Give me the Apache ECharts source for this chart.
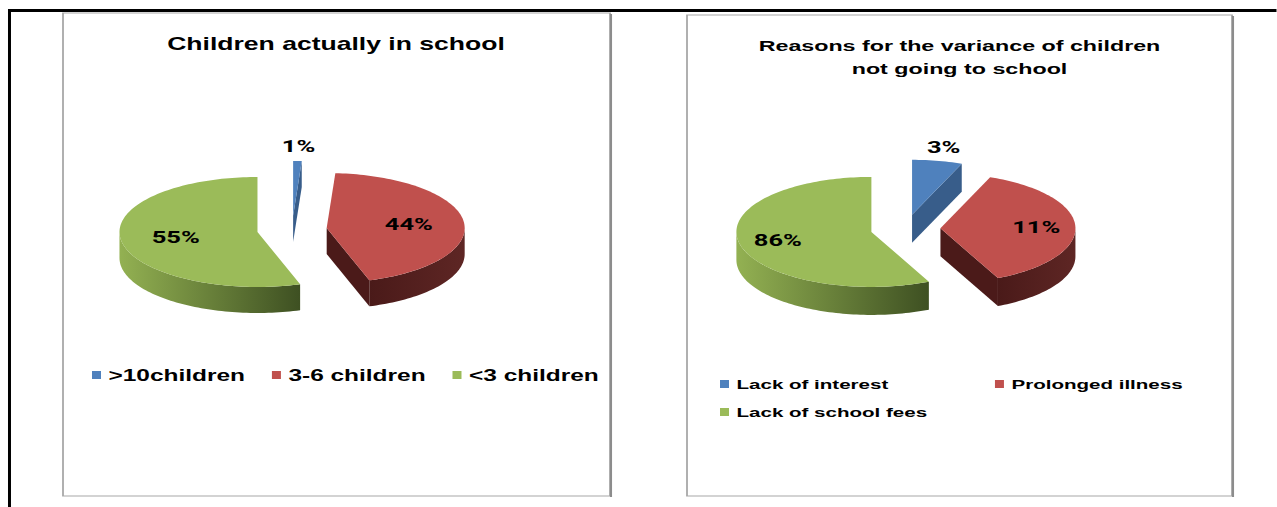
<!DOCTYPE html>
<html><head><meta charset="utf-8">
<script src="https://cdn.jsdelivr.net/npm/echarts@6/dist/echarts.min.js"></script>
<style>
html,body{margin:0;padding:0;background:#fff;overflow:hidden;}
#wrap{width:1277px;height:507px;overflow:hidden;position:relative;}
#chart{width:851.3333px;height:507px;transform:scaleX(1.5);transform-origin:0 0;}
</style></head><body>
<div id="wrap"><div id="chart"></div></div>
<script>
// ---- Chart 1 data ----
const schoolTitle = 'Children actually in school';
const schoolCategories = ['>10children', '3-6 children', '<3 children'];
const schoolValues = [1, 44, 55];
const schoolLabels = ['1%', '44%', '55%'];

// ---- Chart 2 data ----
const reasonTitle = 'Reasons for the variance of children\nnot going to school';
const reasonCategories = ['Lack of interest', 'Prolonged illness', 'Lack of school fees'];
const reasonSliceValues = [6, 37, 57];          // slice sizes as drawn in the picture
const reasonLabels = ['3%', '11%', '86%'];      // label texts as printed

// ---- styles ----
const S = 1.5; // horizontal stretch of the whole picture
const colors = ['#4F81BD', '#C0504D', '#9BBB59'];
const sideColors = [['#3f6aa0', '#2e5180'], ['#4a1a19', '#5e2624'], ['#93b152', '#3e5022']];
const faceColors = ['#385d8a', '#4b1a19', '#5a7330'];

function drawSlice(cfg, i, a0, a1, share, label) {
  const cx = cfg.cx, cy = cfg.cy, rx = cfg.rx, ry = cfg.ry, depth = cfg.depth, ex = cfg.explode;
  const mid = (a0 + a1) / 2;
  const ox = cx + Math.sin(mid) * ex;
  const oy = cy - Math.cos(mid) * ex * ry / rx;
  const rim = (t, dy) => [ox + Math.sin(t) * rx, oy - Math.cos(t) * ry + (dy || 0)];
  const arc = (t0, t1, dy) => {
    const n = Math.max(2, Math.ceil(Math.abs(t1 - t0) / (Math.PI / 120)));
    const pts = [];
    for (let k = 0; k <= n; k++) pts.push(rim(t0 + (t1 - t0) * k / n, dy));
    return pts;
  };
  const children = [];
  const s0 = Math.max(a0, Math.PI / 2), s1 = Math.min(a1, 1.5 * Math.PI);
  if (s1 > s0) {
    children.push({
      type: 'polygon', shape: { points: arc(s0, s1, 0).concat(arc(s1, s0, depth)) },
      style: { fill: new echarts.graphic.LinearGradient(0, 0, 1, 0, [
        { offset: 0, color: sideColors[i][0] }, { offset: 1, color: sideColors[i][1] }]) }
    });
  }
  const face = (t) => [[ox, oy], rim(t), rim(t, depth), [ox, oy + depth]];
  if (Math.sin(a0) < -1e-6) children.push({ type: 'polygon', shape: { points: face(a0) }, style: { fill: faceColors[i] } });
  if (Math.sin(a1) > 1e-6) children.push({ type: 'polygon', shape: { points: face(a1) }, style: { fill: faceColors[i] } });
  children.push({ type: 'polygon', shape: { points: [[ox, oy]].concat(arc(a0, a1, 0)) }, style: { fill: colors[i] } });
  const f = share < 0.08 ? cfg.outR : cfg.labelR;
  children.push({
    type: 'text', x: ox + Math.sin(mid) * rx * f, y: oy - Math.cos(mid) * ry * f, z2: 20,
    style: { text: label, fill: '#000', fontSize: 17, fontWeight: 'bold', fontFamily: 'Roboto',
             align: 'center', verticalAlign: 'middle' }
  });
  return { type: 'group', children: children };
}

function pieSeries(cfg, names, values, labels) {
  const total = values.reduce((a, b) => a + b, 0);
  let acc = 0;
  return values.map((v, i) => {
    const a0 = acc / total * 2 * Math.PI; acc += v;
    const a1 = acc / total * 2 * Math.PI;
    return {
      type: 'custom', name: names[i], coordinateSystem: 'none', silent: true,
      itemStyle: { color: colors[i] }, data: [[v]],
      renderItem: () => drawSlice(cfg, i, a0, a1, v / total, labels[i])
    };
  });
}

const pie1 = { cx: 292 / S, cy: 229.8, rx: 92, ry: 55, depth: 26, explode: 23.3, labelR: 0.6, outR: 1.27 };
const pie2 = { cx: 905.5 / S, cy: 228.8, rx: 90, ry: 55, depth: 28, explode: 23.3, labelR: 0.71, outR: 1.25 };

const chart = echarts.init(document.getElementById('chart'), null, { renderer: 'svg', width: 1277 / S, height: 507 });
chart.setOption({
  animation: false,
  backgroundColor: '#fff',
  title: [
    { text: schoolTitle, left: 336 / S, top: 44, textAlign: 'center', textVerticalAlign: 'middle', padding: 0,
      textStyle: { fontFamily: 'Liberation Sans', fontWeight: 'bold', fontSize: 17.7, color: '#000' } },
    { text: reasonTitle, left: 959.5 / S, top: 57, textAlign: 'center', textVerticalAlign: 'middle', padding: 0,
      textStyle: { fontFamily: 'Liberation Sans', fontWeight: 'bold', fontSize: 15.5, lineHeight: 23, color: '#000' } }
  ],
  legend: [
    { data: schoolCategories, left: 92 / S, top: 366, padding: 0, orient: 'horizontal',
      icon: 'rect', itemWidth: 6, itemHeight: 8, itemGap: 18, selectedMode: false,
      textStyle: { fontFamily: 'Liberation Sans', fontWeight: 'bold', fontSize: 16.3, lineHeight: 18, color: '#000' } },
    { data: reasonCategories, left: 720 / S, top: 375, width: 360, padding: 0, orient: 'horizontal',
      icon: 'rect', itemWidth: 6, itemHeight: 8, itemGap: 10, selectedMode: false,
      textStyle: { fontFamily: 'Liberation Sans', fontWeight: 'bold', fontSize: 13.7, lineHeight: 18,
                   width: 162.3, overflow: 'none', color: '#000' } }
  ],
  graphic: [
    { type: 'line', z: -1, shape: { x1: 6.33, y1: 10.5, x2: 1277 / S, y2: 10.5 }, style: { stroke: '#000', lineWidth: 3 } },
    { type: 'line', z: -1, shape: { x1: 6.33, y1: 9, x2: 6.33, y2: 507 }, style: { stroke: '#000', lineWidth: 2 } },
    { type: 'rect', z: -1, shape: { x: 63 / S, y: 13, width: (610 - 63) / S, height: 483 }, style: { fill: 'none', stroke: '#a8a8a8', lineWidth: 1.2 } },
    { type: 'line', z: -1, shape: { x1: 611 / S, y1: 14, x2: 611 / S, y2: 497 }, style: { stroke: '#8c8c8c', lineWidth: 1.4 } },
    { type: 'rect', z: -1, shape: { x: 687 / S, y: 15, width: (1232 - 687) / S, height: 481 }, style: { fill: 'none', stroke: '#a8a8a8', lineWidth: 1.2 } },
    { type: 'line', z: -1, shape: { x1: 1233 / S, y1: 16, x2: 1233 / S, y2: 497 }, style: { stroke: '#8c8c8c', lineWidth: 1.4 } }
  ],
  series: pieSeries(pie1, schoolCategories, schoolValues, schoolLabels)
    .concat(pieSeries(pie2, reasonCategories, reasonSliceValues, reasonLabels))
});
</script>
</body></html>
